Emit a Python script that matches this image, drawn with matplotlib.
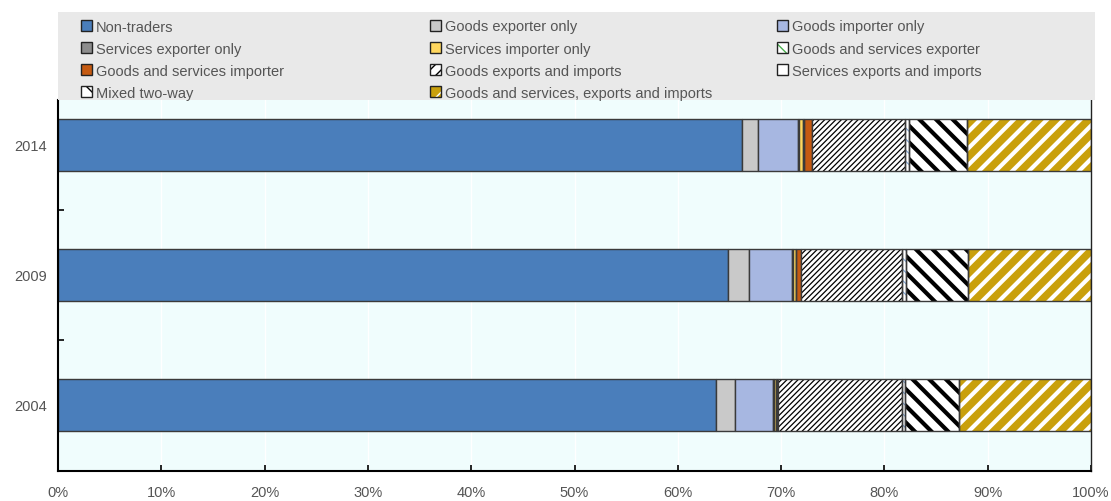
import numpy as np
import matplotlib.pyplot as plt
from matplotlib.patches import Patch, Rectangle

plt.rcParams['font.family'] = ['Liberation Sans', 'DejaVu Sans']

# Share of firms by trading status (%), stacked left to right
years = ['2004', '2009', '2014']
non_traders = [63.7, 64.9, 66.2]
goods_exporter = [1.8, 2.0, 1.6]
goods_importer = [3.7, 4.2, 3.8]
services_exporter = [0.1, 0.05, 0.1]
services_importer = [0.2, 0.25, 0.45]
gs_exporter = [0.1, 0.05, 0.1]
gs_importer = [0.1, 0.5, 0.7]
goods_xm = [12.0, 9.8, 9.0]
services_xm = [0.3, 0.35, 0.4]
mixed_two_way = [5.2, 6.0, 5.65]
gs_xm = [12.8, 11.9, 12.0]

labels = ['Non-traders', 'Goods exporter only', 'Goods importer only',
          'Services exporter only', 'Services importer only',
          'Goods and services exporter', 'Goods and services importer',
          'Goods exports and imports', 'Services exports and imports',
          'Mixed two-way', 'Goods and services, exports and imports']
series = [non_traders, goods_exporter, goods_importer, services_exporter,
          services_importer, gs_exporter, gs_importer, goods_xm,
          services_xm, mixed_two_way, gs_xm]

# face colour, hatch, hatch colour, hatch line width
styles = [
    ('#4a7ebb', None, None, 0),
    ('#c9c9c9', None, None, 0),
    ('#a7b7e1', None, None, 0),
    ('#8c8c8c', None, None, 0),
    ('#ffd75e', None, None, 0),
    ('white', '\\\\\\', '#4caf50', 0.8),
    ('#c55a11', None, None, 0),
    ('white', '//////', 'black', 0.9),
    ('white', '\\\\\\', '#7fa6d8', 0.8),
    ('white', '\\\\', 'black', 3.0),
    ('#c9a00c', '//', 'white', 3.0),
]
edge = '#3a3a3a'
text_col = '#555555'


def set_hlw(artist, lw):
    if hasattr(artist, 'set_hatch_linewidth'):
        artist.set_hatch_linewidth(lw)


fig = plt.figure(figsize=(11.11, 5.02), dpi=100)
ax = fig.add_axes([58 / 1111, 1 - 472 / 502, 1033 / 1111, 371 / 502])
ax.set_facecolor('#f0fdfd')

y = np.arange(len(years))
left = np.zeros(len(years))
handles = []
for vals, lab, (fc, hatch, hc, hlw) in zip(series, labels, styles):
    vals = np.array(vals)
    if hatch:
        with plt.rc_context({'hatch.linewidth': hlw}):
            bars = ax.barh(y, vals, left=left, height=0.4, color=fc, edgecolor=hc,
                           hatch=hatch, linewidth=0, zorder=2)
            hp = Patch(facecolor=fc, edgecolor=hc,
                       hatch=hatch[:max(1, len(hatch) // 2)], linewidth=0)
        for b in bars:
            set_hlw(b, hlw)
        set_hlw(hp, min(hlw, 1.5))
        ax.barh(y, vals, left=left, height=0.4, fill=False, edgecolor=edge,
                linewidth=1, zorder=3)
        handles.append((hp, Patch(fill=False, edgecolor='#222222', linewidth=1)))
    else:
        ax.barh(y, vals, left=left, height=0.4, color=fc, edgecolor=edge,
                linewidth=1, zorder=2)
        handles.append(Patch(facecolor=fc, edgecolor='#222222', linewidth=1))
    left += vals

ax.set_xlim(0, 100)
ax.set_ylim(-0.508, 2.346)
ax.set_xticks(np.arange(0, 101, 10))
ax.set_xticklabels([f'{v}%' for v in range(0, 101, 10)])
ax.set_yticks(y)
ax.set_yticklabels(years)
ax.set_yticks([0.5, 1.5], minor=True)
ax.tick_params(axis='x', direction='in', length=4, width=1.2, colors='black',
               labelcolor=text_col, labelsize=10.5, pad=10)
ax.tick_params(axis='y', which='major', length=0, labelcolor=text_col,
               labelsize=10.5, pad=8)
ax.tick_params(axis='y', which='minor', direction='in', length=4, width=1.2)
ax.grid(axis='x', color='white', linewidth=1, zorder=0)
ax.set_axisbelow(True)
for s in ['left', 'bottom']:
    ax.spines[s].set_linewidth(1.5)
ax.spines['right'].set_linewidth(1)
ax.spines['right'].set_color('#222222')
ax.spines['top'].set_visible(False)

# grey band behind the legend
fig.patches.append(Rectangle((58 / 1111, 1 - 101 / 502), 1037 / 1111, 88 / 502,
                             transform=fig.transFigure, facecolor='#e9e9e9',
                             edgecolor='none', zorder=0))

# three legend columns, rows read left to right
columns = [[0, 3, 6, 9], [1, 4, 7, 10], [2, 5, 8]]
col_x = [81, 430, 777]
for idx, cx in zip(columns, col_x):
    fig.legend([handles[i] for i in idx], [labels[i] for i in idx],
               loc='upper left', bbox_to_anchor=(cx / 1111, 1 - 20.5 / 502),
               frameon=False, fontsize=10.5, handlelength=0.75,
               handleheight=0.75, handletextpad=0.25, labelspacing=0.55,
               borderpad=0, borderaxespad=0, labelcolor=text_col)

fig.savefig('out.png', dpi=100)
